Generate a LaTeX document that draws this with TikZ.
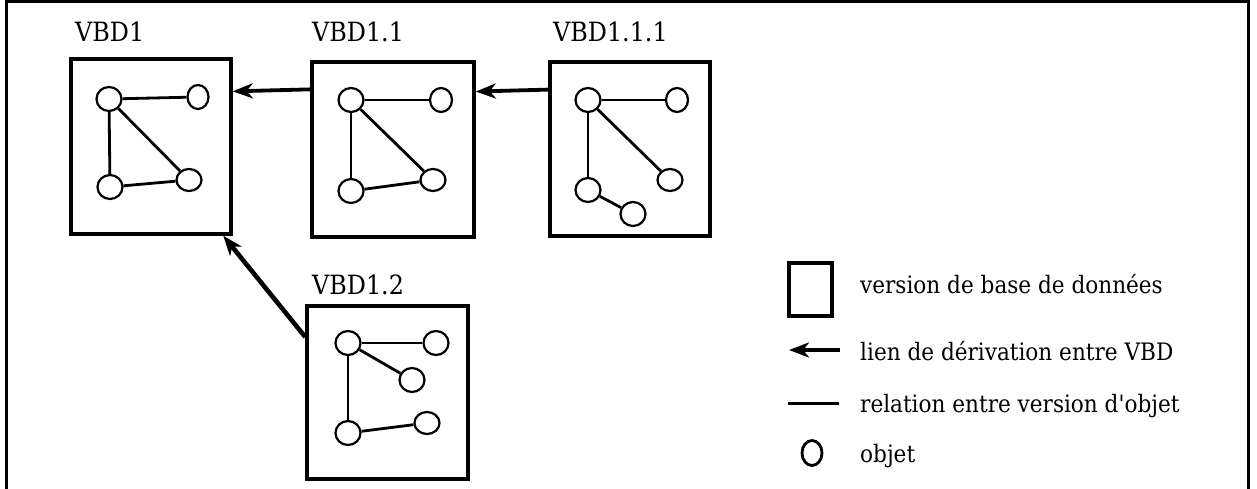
\documentclass[tikz,border=0pt]{standalone}
\usepackage{fontspec}
\setmainfont{DejaVu Serif Condensed}
\usepackage{tikz}
\usetikzlibrary{calc}
\usetikzlibrary{arrows.meta}
\usetikzlibrary{shapes.geometric}

\tikzset{
  vbd/.style={draw, rectangle, line width=3.5pt, minimum width=160pt, minimum height=174pt, inner sep=0pt},
  obj/.style={draw, ellipse, line width=2.2pt, minimum width=25pt, minimum height=24pt, inner sep=0pt},
  rel/.style={line width=2.8pt},
  deriv/.style={line width=3.8pt, -{Stealth[length=20pt, width=15pt, inset=6pt]}},
  vbdname/.style={anchor=base west, inner sep=0pt, font=\fontsize{26.5}{30}\selectfont},
  legtext/.style={anchor=base west, inner sep=0pt, font=\fontsize{24}{27}\selectfont}
}

\begin{document}
\begin{tikzpicture}[x=1pt, y=-1pt]

\useasboundingbox (0, 0) rectangle (1257, 489);

% frame, open at the bottom
\draw[line width=3pt] (6.5, 495) -- (6.5, 1.5) -- (1248, 1.5) -- (1248, 495);

% VBD1
\node[vbd, minimum height=175pt] (v1) at (151, 146.5) {};
\node[vbdname] (n1) at (75, 42) {VBD1};
\node[obj] (a1) at (109, 99) {};
\node[obj, minimum width=21pt] (b1) at (198, 97) {};
\node[obj] (c1) at (110, 187) {};
\node[obj, minimum height=22pt] (d1) at (189, 180) {};
\draw[rel] (a1) -- (b1);
\draw[rel] (a1) -- (c1);
\draw[rel] (a1) -- (d1);
\draw[rel] (c1) -- (d1);

% VBD1.1
\node[vbd, minimum width=162pt, minimum height=175pt] (v11) at (393, 149.5) {};
\node[vbdname] (n11) at (312, 42) {VBD1.1};
\node[obj] (a2) at (351, 100) {};
\node[obj, minimum width=22pt] (b2) at (441, 100) {};
\node[obj] (c2) at (351, 191) {};
\node[obj, minimum height=22pt] (d2) at (433, 180) {};
\draw[rel] (a2) -- (b2);
\draw[rel] (a2) -- (c2);
\draw[rel] (a2) -- (d2);
\draw[rel] (c2) -- (d2);

% VBD1.1.1
\node[vbd] (v111) at (630, 149) {};
\node[vbdname] (n111) at (553, 42) {VBD1.1.1};
\node[obj] (a3) at (588, 100) {};
\node[obj, minimum width=22pt] (b3) at (677, 100) {};
\node[obj] (c3) at (588, 190) {};
\node[obj, minimum height=22pt] (d3) at (670, 180) {};
\node[obj] (e3) at (633, 214) {};
\draw[rel] (a3) -- (b3);
\draw[rel] (a3) -- (c3);
\draw[rel] (a3) -- (d3);
\draw[rel] (c3) -- (e3);

% VBD1.2
\node[vbd, minimum width=161pt, minimum height=173pt] (v12) at (387.5, 392.5) {};
\node[vbdname] (n12) at (312, 294) {VBD1.2};
\node[obj] (a4) at (348, 343) {};
\node[obj] (b4) at (436, 343) {};
\node[obj] (c4) at (412, 380) {};
\node[obj] (d4) at (348, 433) {};
\node[obj, minimum height=22pt] (e4) at (427, 423) {};
\draw[rel] (a4) -- (b4);
\draw[rel] (a4) -- (c4);
\draw[rel] (a4) -- (d4);
\draw[rel] (d4) -- (e4);

% derivation links
\draw[deriv] (v11.144.6) -- (v1.34.3);
\draw[deriv] (v111.144.5) -- (v11.35.4);
\draw[deriv, line width=4.6pt] (v12.146.9) -- (v1.-51.7);

% legend
\node[vbd, minimum width=43pt, minimum height=53pt] (lbox) at (810.5, 289.5) {};
\node[legtext] (t1) at (860, 293) {version de base de données};
\coordinate (la1) at (840, 350);
\coordinate (la2) at (789, 350);
\draw[deriv] (la1) -- (la2);
\node[legtext] (t2) at (860, 360) {lien de dérivation entre VBD};
\coordinate (lr1) at (788, 403);
\coordinate (lr2) at (839, 403);
\draw[rel, line width=3pt] (lr1) -- (lr2);
\node[legtext] (t3) at (860, 412) {relation entre version d\textquotesingle objet};
\node[obj, line width=2.8pt, minimum width=20pt, minimum height=25pt] (lobj) at (812, 453) {};
\node[legtext] (t4) at (860, 462) {objet};

\end{tikzpicture}
\end{document}
